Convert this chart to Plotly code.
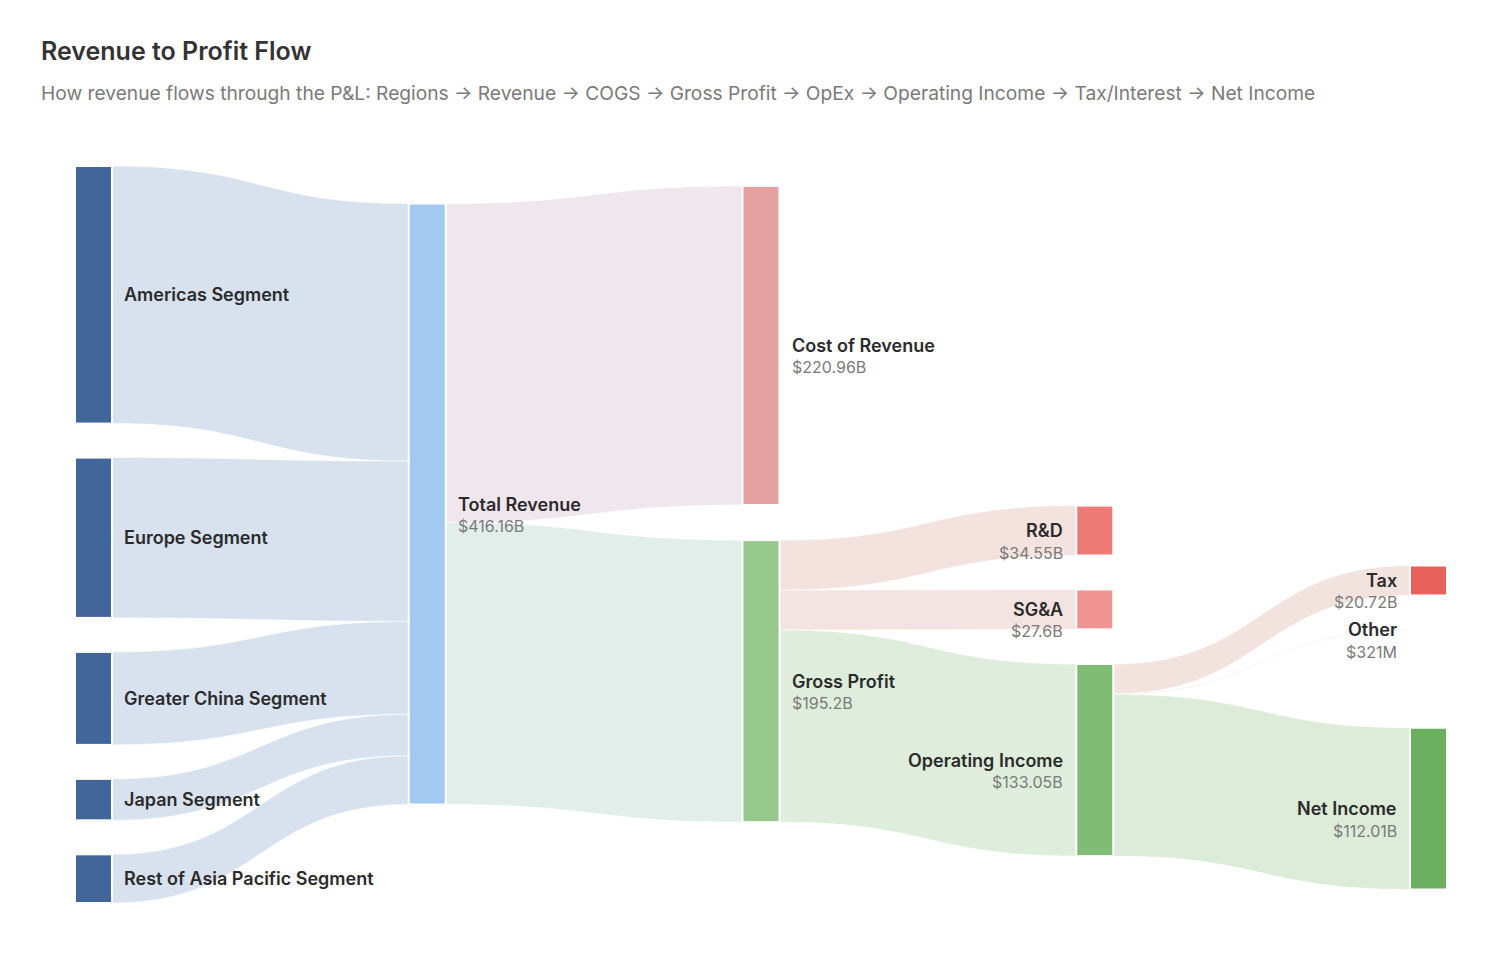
import plotly.graph_objects as go

# ---------------- data ----------------
node_names = ["Americas Segment", "Europe Segment", "Greater China Segment", "Japan Segment",
              "Rest of Asia Pacific Segment", "Total Revenue", "Cost of Revenue", "Gross Profit",
              "R&D", "SG&A", "Operating Income", "Tax", "Other", "Net Income"]
node_value_labels = ["", "", "", "", "", "$416.16B", "$220.96B", "$195.2B",
                     "$34.55B", "$27.6B", "$133.05B", "$20.72B", "$321M", "$112.01B"]
link_source = [0, 1, 2, 3, 4, 5, 5, 7, 7, 7, 10, 10, 10]
link_target = [5, 5, 5, 5, 5, 6, 7, 8, 9, 10, 11, 12, 13]
link_values = [178.35, 111.03, 64.38, 28.70, 33.70, 220.96, 195.20, 34.55, 27.60, 133.05, 20.72, 0.321, 112.01]

title_text = "Revenue to Profit Flow"
subtitle_text = ("How revenue flows through the P&L: Regions → Revenue → COGS → Gross Profit → OpEx → "
                 "Operating Income → Tax/Interest → Net Income")

# ---------------- styles ----------------
node_colors = ["#41669a", "#41669a", "#41669a", "#41669a", "#41669a", "#a2c9f2", "#e4a19f", "#96c78b",
               "#ee7a76", "#f09393", "#80bd74", "#e9615b", "#e9615b", "#6aaf5d"]
link_colors = ["#d8e2ef"] * 5 + ["#efe6ee", "#e2eeea", "#f4e2df", "#f4e4e1", "#dfeedc",
                                  "#f3e3de", "#c9cdc4", "#dcecd8"]

FIG_W, FIG_H = 1500, 961
M_L, M_R, M_T, M_B = 75, 53, 166, 58
PAD, THICK = 34, 37
ITERATIONS = 6
WD, HD = FIG_W - M_L - M_R, FIG_H - M_T - M_B

# ------- d3-sankey style layout (left-aligned, input node order kept) -------
n = len(node_names)
L = len(link_values)
src_links = [[k for k in range(L) if link_source[k] == i] for i in range(n)]
tgt_links = [[k for k in range(L) if link_target[k] == i] for i in range(n)]
node_val = [max(sum(link_values[k] for k in tgt_links[i]), sum(link_values[k] for k in src_links[i]))
            for i in range(n)]

layer = [0] * n
changed = True
while changed:
    changed = False
    for s, t in zip(link_source, link_target):
        if layer[t] < layer[s] + 1:
            layer[t] = layer[s] + 1
            changed = True
ncol = max(layer) + 1
columns = [[i for i in range(n) if layer[i] == c] for c in range(ncol)]

py = min(PAD, HD / (max(len(c) for c in columns) - 1))
ky = min((HD - (len(c) - 1) * py) / sum(node_val[i] for i in c) for c in columns)
width = [v * ky for v in link_values]
Y0 = [0.0] * n
Y1 = [0.0] * n


def sort_links(i):
    src_links[i].sort(key=lambda k: (Y0[link_target[k]], k))
    tgt_links[i].sort(key=lambda k: (Y0[link_source[k]], k))


def reorder_node_links(i):
    for k in tgt_links[i]:
        s = link_source[k]
        src_links[s].sort(key=lambda kk: (Y0[link_target[kk]], kk))
    for k in src_links[i]:
        t = link_target[k]
        tgt_links[t].sort(key=lambda kk: (Y0[link_source[kk]], kk))


for nodes in columns:
    y = 0.0
    for i in nodes:
        Y0[i] = y
        Y1[i] = y + node_val[i] * ky
        y = Y1[i] + py
    y = (HD - y + py) / (len(nodes) + 1)
    for j, i in enumerate(nodes):
        Y0[i] += y * (j + 1)
        Y1[i] += y * (j + 1)
    for i in nodes:
        sort_links(i)


def target_top(s, t):
    y = Y0[s] - (len(src_links[s]) - 1) * py / 2
    for k in src_links[s]:
        if link_target[k] == t:
            break
        y += width[k] + py
    for k in tgt_links[t]:
        if link_source[k] == s:
            break
        y -= width[k]
    return y


def source_top(s, t):
    y = Y0[t] - (len(tgt_links[t]) - 1) * py / 2
    for k in tgt_links[t]:
        if link_source[k] == s:
            break
        y += width[k] + py
    for k in src_links[s]:
        if link_target[k] == t:
            break
        y -= width[k]
    return y


def shift(i, dy):
    Y0[i] += dy
    Y1[i] += dy


def resolve_collisions(nodes, a):
    m = len(nodes) >> 1
    subj = nodes[m]

    def bottom_to_top(y, j):
        while j >= 0:
            node = nodes[j]
            dy = (Y1[node] - y) * a
            if dy > 1e-6:
                shift(node, -dy)
            y = Y0[node] - py
            j -= 1

    def top_to_bottom(y, j):
        while j < len(nodes):
            node = nodes[j]
            dy = (y - Y0[node]) * a
            if dy > 1e-6:
                shift(node, dy)
            y = Y1[node] + py
            j += 1

    bottom_to_top(Y0[subj] - py, m - 1)
    top_to_bottom(Y1[subj] + py, m + 1)
    bottom_to_top(HD, len(nodes) - 1)
    top_to_bottom(0.0, 0)


for it in range(ITERATIONS):
    alpha = 0.99 ** it
    beta = max(1 - alpha, (it + 1) / ITERATIONS)
    for c in range(ncol - 2, -1, -1):
        for s in columns[c]:
            ysum = w = 0.0
            for k in src_links[s]:
                v = link_values[k] * (layer[link_target[k]] - layer[s])
                ysum += source_top(s, link_target[k]) * v
                w += v
            if w > 0:
                shift(s, (ysum / w - Y0[s]) * alpha)
                reorder_node_links(s)
        resolve_collisions(columns[c], beta)
    for c in range(1, ncol):
        for t in columns[c]:
            ysum = w = 0.0
            for k in tgt_links[t]:
                v = link_values[k] * (layer[t] - layer[link_source[k]])
                ysum += target_top(link_source[k], t) * v
                w += v
            if w > 0:
                shift(t, (ysum / w - Y0[t]) * alpha)
                reorder_node_links(t)
        resolve_collisions(columns[c], beta)

h = [Y1[i] - Y0[i] for i in range(n)]
xc = [THICK / 2 + layer[i] * (WD - THICK) / (ncol - 1) for i in range(n)]
node_x = [x / WD for x in xc]
node_y = [(Y0[i] + h[i] / 2) / HD for i in range(n)]

fig = go.Figure(go.Sankey(
    arrangement="fixed",
    node=dict(
        label=[""] * n,
        customdata=node_names,
        hovertemplate="%{customdata}: %{value}<extra></extra>",
        color=node_colors,
        pad=PAD,
        thickness=THICK,
        align="left",
        x=node_x,
        y=node_y,
        line=dict(color="white", width=2),
    ),
    link=dict(
        source=link_source,
        target=link_target,
        value=link_values,
        color=link_colors,
        line=dict(color="rgba(255,255,255,0.9)", width=0.6),
    ),
))

FONT = "Inter, Roboto, sans-serif"
annotations = []
for i in range(n):
    cy = 1 - (Y0[i] + h[i] / 2) / HD
    if layer[i] < 3:
        ax, anchor = (xc[i] + THICK / 2 + 10) / WD, "left"
    else:
        ax, anchor = (xc[i] - THICK / 2 - 11) / WD, "right"
    annotations.append(dict(
        text=node_names[i], x=ax, y=cy, xref="paper", yref="paper", xanchor=anchor, yanchor="middle",
        showarrow=False, font=dict(family=FONT, size=18, color="#2b2b2b", weight=600)))
    if node_value_labels[i]:
        annotations.append(dict(
            text=node_value_labels[i], x=ax, y=cy, xref="paper", yref="paper", xanchor=anchor,
            yanchor="middle", yshift=-22, showarrow=False,
            font=dict(family=FONT, size=16, color="#7a7a7a")))

annotations.append(dict(
    text=title_text, x=(39 - M_L) / WD, y=1 + (M_T - 51) / HD, xref="paper", yref="paper",
    xanchor="left", yanchor="middle", showarrow=False,
    font=dict(family=FONT, size=25, color="#333333", weight=600)))
annotations.append(dict(
    text=subtitle_text, x=(39 - M_L) / WD, y=1 + (M_T - 93) / HD, xref="paper", yref="paper",
    xanchor="left", yanchor="middle", showarrow=False,
    font=dict(family=FONT, size=19.2, color="#7a7a7a")))

fig.update_layout(
    width=FIG_W, height=FIG_H,
    paper_bgcolor="white", plot_bgcolor="white",
    margin=dict(l=M_L, r=M_R, t=M_T, b=M_B),
    annotations=annotations,
)

fig.write_html("out.html")
